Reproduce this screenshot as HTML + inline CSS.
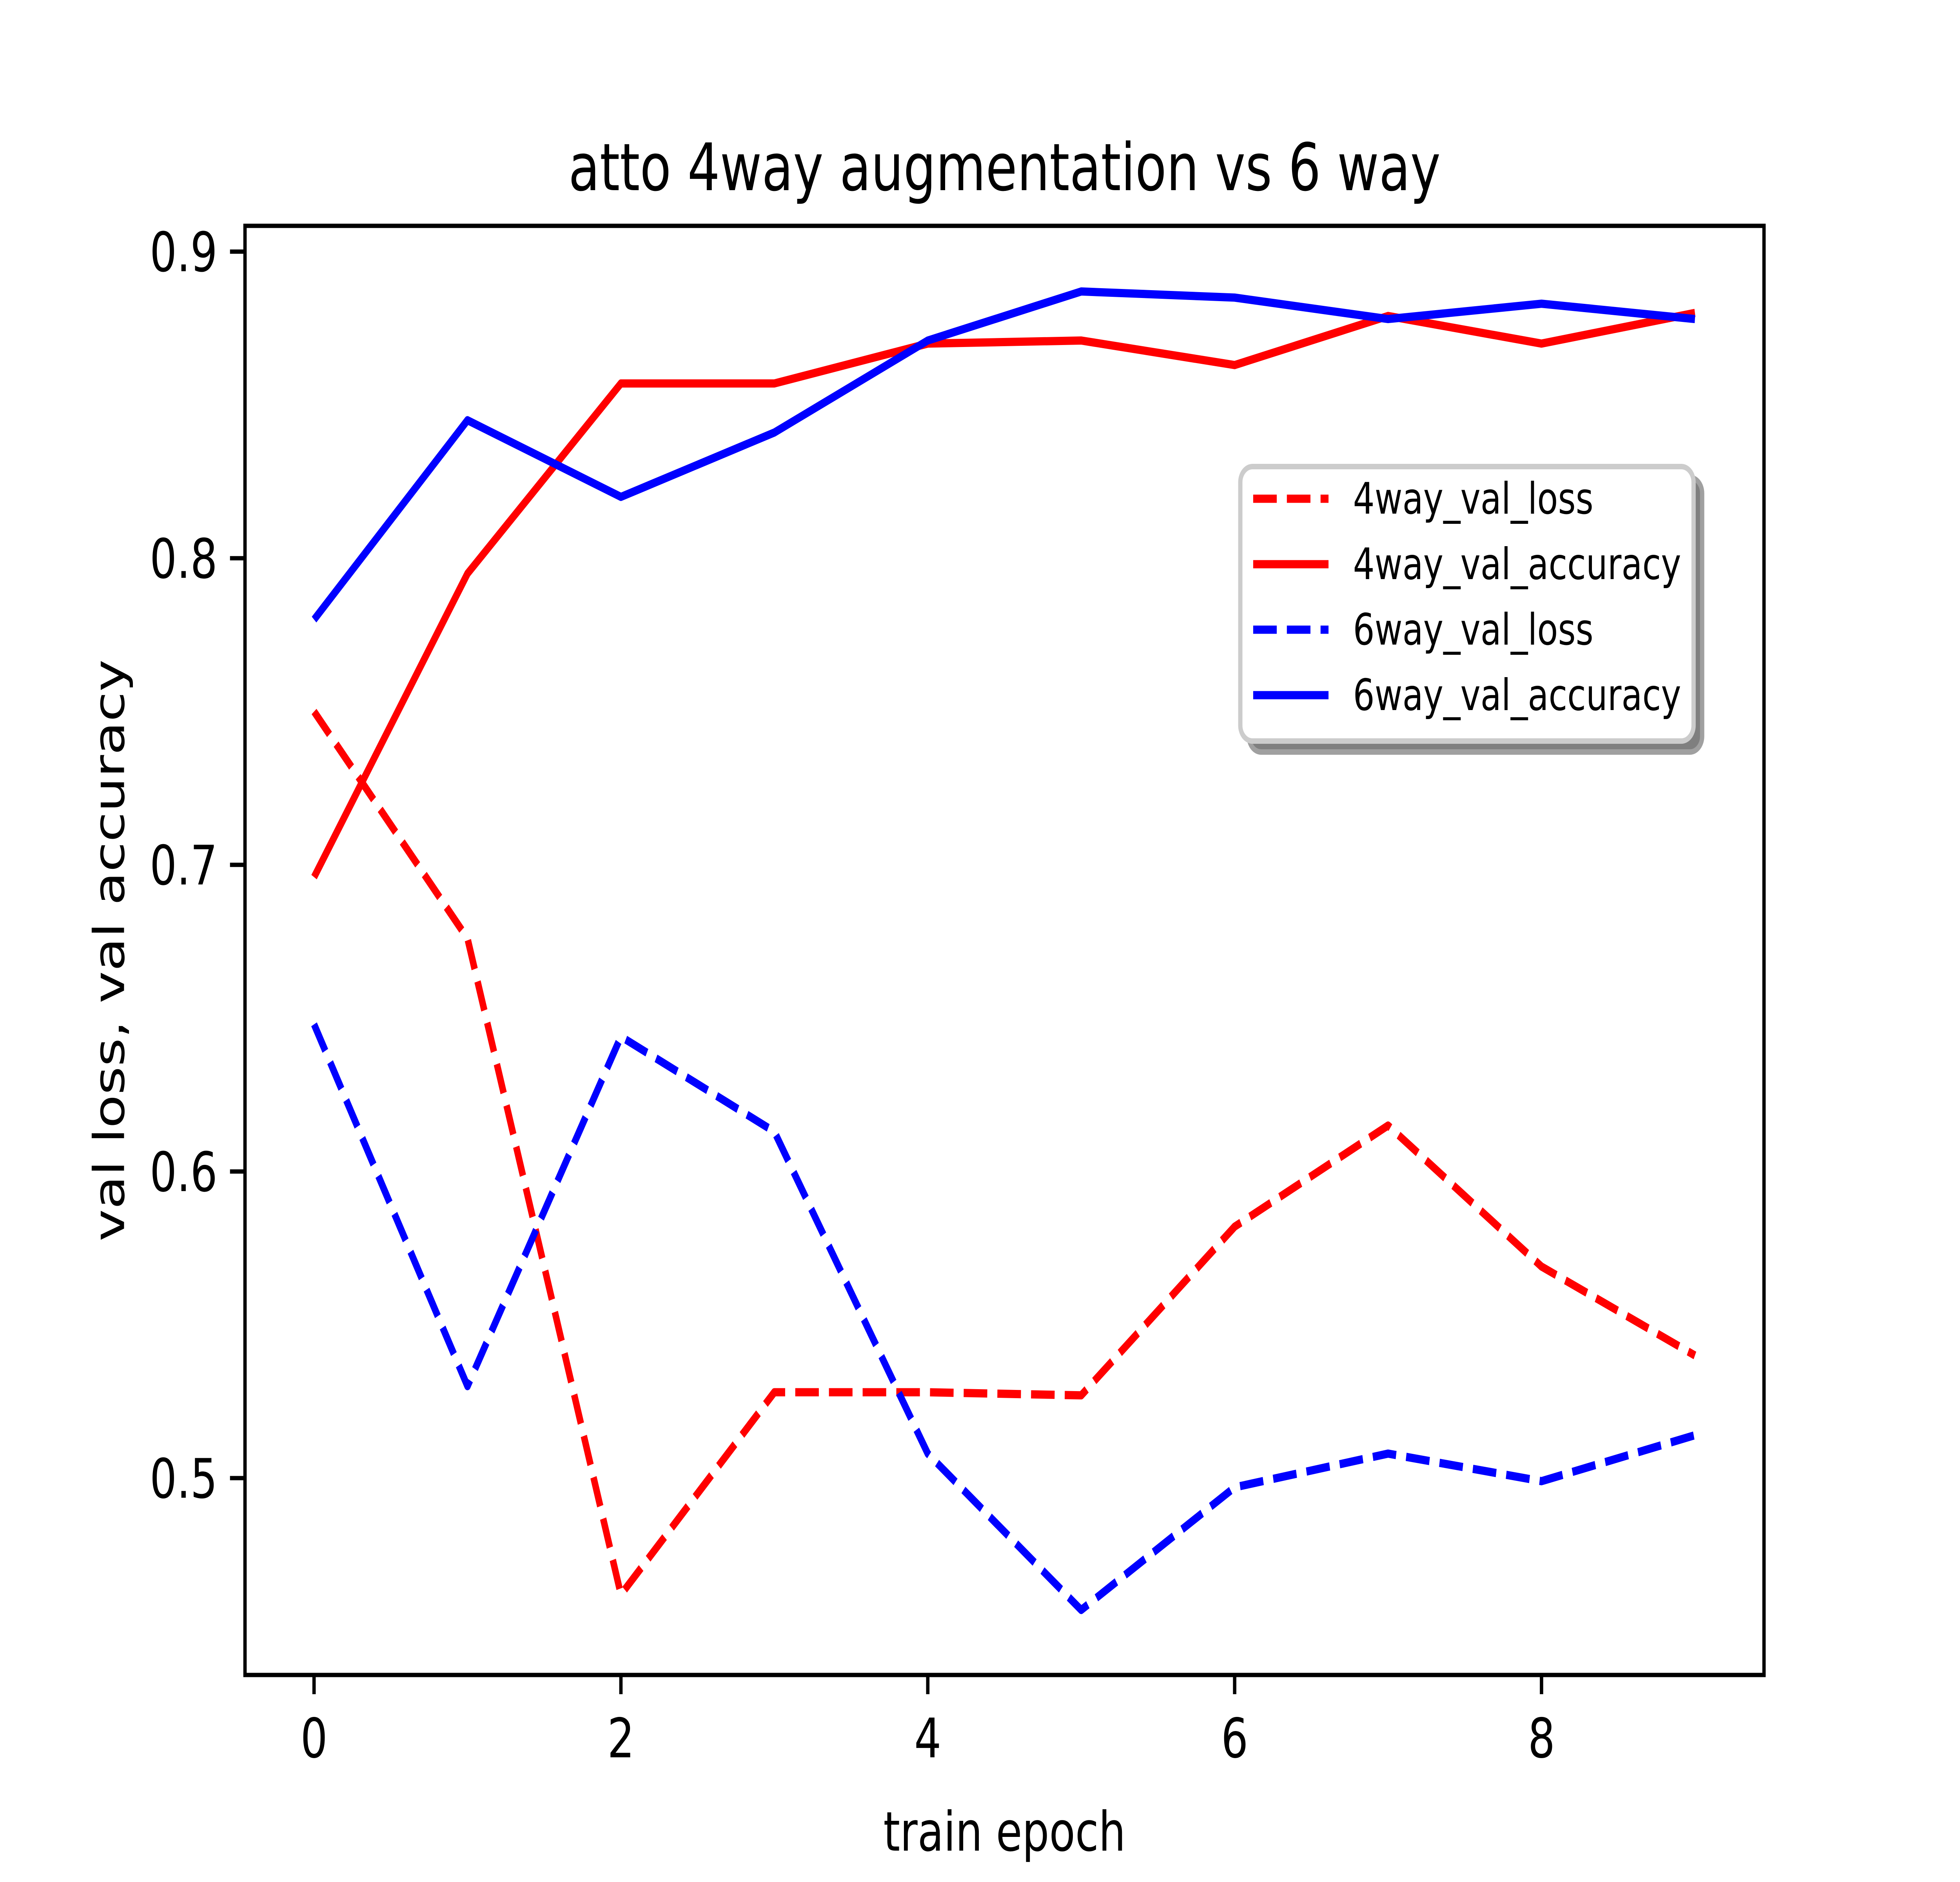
<!DOCTYPE html>
<html><head><meta charset="utf-8"><style>
html,body{margin:0;padding:0;background:#fff;overflow:hidden;width:100%;height:100%}
svg{display:block;width:100vw;height:100vh}
text{font-family:"DejaVu Sans","Liberation Sans",sans-serif;fill:#000}
</style></head><body>
<svg id="chart" viewBox="0 0 6400 4800" preserveAspectRatio="none" xmlns="http://www.w3.org/2000/svg">
<rect x="0" y="0" width="6400" height="4800" fill="#fff"/>
<text x="3280" y="485" font-size="167" text-anchor="middle">atto 4way augmentation vs 6 way</text>
<g id="plot"></g>
<rect x="800" y="576" width="4960" height="3696" fill="none" stroke="#000" stroke-width="11"/>
<g id="xticks"></g>
<g id="yticks"></g>
<text x="3280" y="4720" font-size="139" text-anchor="middle">train epoch</text>
<text x="0" y="0" font-size="139" text-anchor="middle" transform="translate(405,2424) rotate(-90)">val loss, val accuracy</text>
<g id="legend"></g>
</svg>
<script>
const epochs = [0,1,2,3,4,5,6,7,8,9];
const loss4 = [0.750,0.676,0.462,0.528,0.528,0.527,0.582,0.615,0.569,0.540];
const acc4  = [0.696,0.795,0.857,0.857,0.870,0.871,0.863,0.879,0.870,0.880];
const loss6 = [0.648,0.530,0.644,0.613,0.508,0.457,0.497,0.508,0.499,0.514];
const acc6  = [0.780,0.845,0.820,0.841,0.871,0.887,0.885,0.878,0.883,0.878];
const xTicks = [0,2,4,6,8];
const yTicks = [0.5,0.6,0.7,0.8,0.9];
const yTickLabels = ["0.5","0.6","0.7","0.8","0.9"];
const seriesNames = ["4way_val_loss","4way_val_accuracy","6way_val_loss","6way_val_accuracy"];

const NS="http://www.w3.org/2000/svg";
const L=800,R=5760,T=576,B=4272;
const xmin=-0.45,xmax=9.45,ymin=0.4358,ymax=0.9084;
function sx(v){return L+(v-xmin)/(xmax-xmin)*(R-L);}
function sy(v){return B-(v-ymin)/(ymax-ymin)*(B-T);}
function mk(tag,attrs,parent){const e=document.createElementNS(NS,tag);for(const k in attrs)e.setAttribute(k,attrs[k]);parent.appendChild(e);return e;}

const plot=document.getElementById('plot');
const styles=[
 {data:loss4,color:"#ff0000",dash:"77 33",name:"line-4way-val-loss"},
 {data:acc4,color:"#ff0000",dash:null,name:"line-4way-val-accuracy"},
 {data:loss6,color:"#0000ff",dash:"77 33",name:"line-6way-val-loss"},
 {data:acc6,color:"#0000ff",dash:null,name:"line-6way-val-accuracy"}];
styles.forEach(s=>{
  const pts=epochs.map((x,i)=>sx(x).toFixed(1)+","+sy(s.data[i]).toFixed(1)).join(" ");
  const a={points:pts,fill:"none",stroke:s.color,"stroke-width":21,"stroke-linejoin":"round","stroke-linecap":"butt"};
  if(s.dash)a["stroke-dasharray"]=s.dash;
  const p=mk('polyline',a,plot);
  
  
});

const xg=document.getElementById('xticks');
xTicks.forEach(v=>{
  const t=mk('line',{x1:sx(v),x2:sx(v),y1:B,y2:B+49,stroke:"#000","stroke-width":11},xg);
  
  
  const l=mk('text',{x:sx(v),y:B+210,"font-size":139,"text-anchor":"middle"},xg);
  l.textContent=String(v);
  
  
});
const yg=document.getElementById('yticks');
yTicks.forEach((v,i)=>{
  const t=mk('line',{x1:L-49,x2:L,y1:sy(v),y2:sy(v),stroke:"#000","stroke-width":11},yg);
  
  
  const l=mk('text',{x:L-90,y:sy(v)+50,"font-size":139,"text-anchor":"end"},yg);
  l.textContent=yTickLabels[i];
  
  
});

const lg=document.getElementById('legend');
const bx=4050,by=1190,bw=1480,bh=700;
const sh=mk('rect',{x:bx+28,y:by+28,width:bw,height:bh,rx:40,fill:"#7f7f7f",stroke:"#a0a0a0","stroke-width":14},lg);


const bxr=mk('rect',{x:bx,y:by,width:bw,height:bh,rx:40,fill:"#fff",stroke:"#cccccc","stroke-width":14},lg);


styles.forEach((s,i)=>{
  const yy=by+82+i*167;
  const a={x1:bx+42,x2:bx+288,y1:yy,y2:yy,stroke:s.color,"stroke-width":21};
  if(s.dash)a["stroke-dasharray"]=s.dash;
  const ln=mk('line',a,lg);
  
  
  const tx=mk('text',{x:bx+368,y:yy+38,"font-size":111},lg);
  tx.textContent=seriesNames[i];
  
  
});
</script>
</body></html>
